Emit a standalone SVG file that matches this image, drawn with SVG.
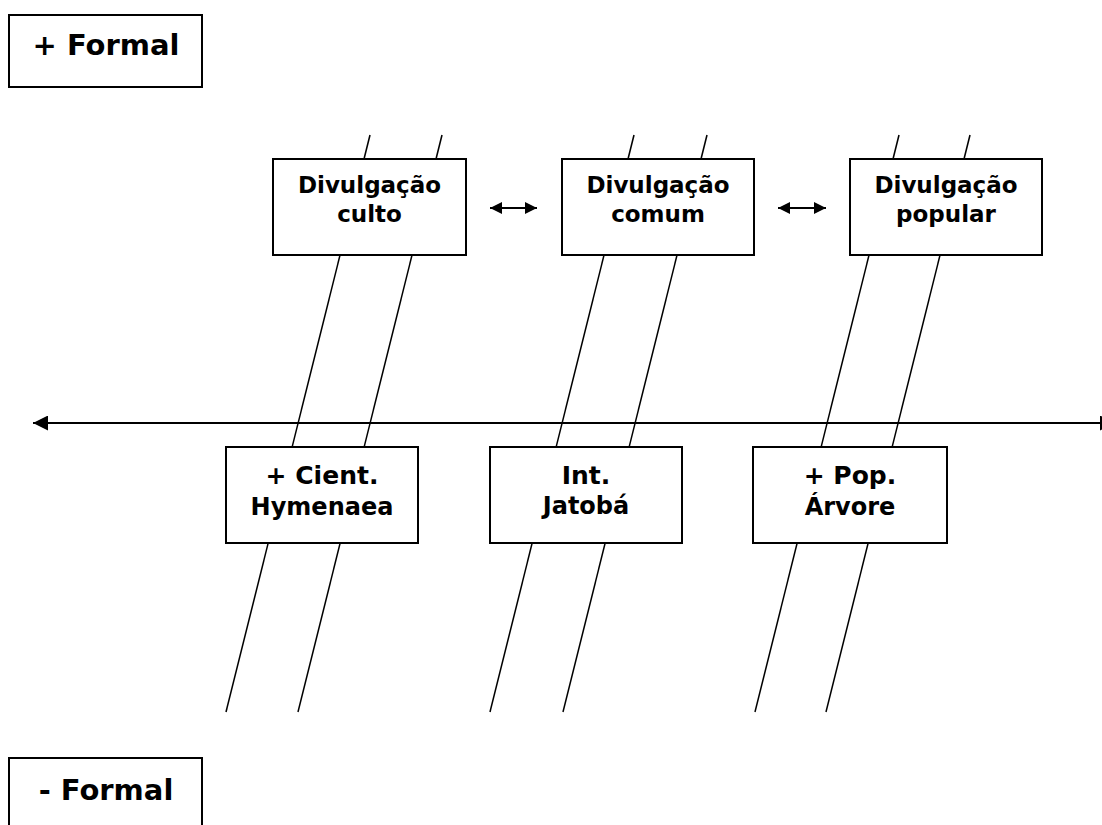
<svg xmlns="http://www.w3.org/2000/svg" width="1102" height="825" viewBox="0 0 1102 825">
<style>
.box{fill:#fff;stroke:#000;stroke-width:2}
.t{font-family:"DejaVu Sans","Verdana",sans-serif;font-weight:bold;fill:#000;text-anchor:middle}
.big{font-size:29px}
.l1{font-size:23px}
.b1{font-size:25px}
.l2{font-size:24px}
.diag{stroke:#000;stroke-width:1.5;fill:none}
.ax{stroke:#000;stroke-width:2;fill:none}
</style>
<defs>
<marker id="ah" viewBox="0 0 10 10" refX="10" refY="5" markerWidth="14" markerHeight="12" orient="auto-start-reverse" markerUnits="userSpaceOnUse">
<path d="M0,0 L10,5 L0,10 z" fill="#000"/>
</marker>
<marker id="ahL" viewBox="0 0 10 10" refX="10" refY="5" markerWidth="17" markerHeight="15" orient="auto-start-reverse" markerUnits="userSpaceOnUse">
<path d="M0,0 L10,5 L0,10 z" fill="#000"/>
</marker>
</defs>
<rect width="1102" height="825" fill="#fff"/>
<g id="connectors">
<line class="ax" x1="33" y1="423" x2="1115" y2="423" marker-start="url(#ahL)" marker-end="url(#ahL)"/>
<line class="diag" x1="370" y1="135" x2="226" y2="712"/>
<line class="diag" x1="442" y1="135" x2="298" y2="712"/>
<line class="diag" x1="634" y1="135" x2="490" y2="712"/>
<line class="diag" x1="707" y1="135" x2="563" y2="712"/>
<line class="diag" x1="899" y1="135" x2="755" y2="712"/>
<line class="diag" x1="970" y1="135" x2="826" y2="712"/>
<line class="ax" x1="490" y1="208" x2="537" y2="208" marker-start="url(#ah)" marker-end="url(#ah)"/>
<line class="ax" x1="778" y1="208" x2="826" y2="208" marker-start="url(#ah)" marker-end="url(#ah)"/>
</g>
<g id="formal-plus">
<rect class="box" x="9" y="15" width="193" height="72"/>
<text class="t big" x="106" y="55">+ Formal</text>
</g>
<g id="formal-minus">
<rect class="box" x="9" y="758" width="193" height="80"/>
<text class="t big" x="106" y="800">- Formal</text>
</g>
<g id="div-culto">
<rect class="box" x="273" y="159" width="193" height="96"/>
<text class="t l1" x="369.5" y="193">Divulgação</text>
<text class="t l1" x="369.5" y="222">culto</text>
</g>
<g id="div-comum">
<rect class="box" x="562" y="159" width="192" height="96"/>
<text class="t l1" x="658" y="193">Divulgação</text>
<text class="t l1" x="658" y="222">comum</text>
</g>
<g id="div-popular">
<rect class="box" x="850" y="159" width="192" height="96"/>
<text class="t l1" x="946" y="193">Divulgação</text>
<text class="t l1" x="946" y="222">popular</text>
</g>
<g id="cient">
<rect class="box" x="226" y="447" width="192" height="96"/>
<text class="t b1" x="322" y="484">+ Cient.</text>
<text class="t l2" x="322" y="515">Hymenaea</text>
</g>
<g id="int">
<rect class="box" x="490" y="447" width="192" height="96"/>
<text class="t b1" x="586" y="484">Int.</text>
<text class="t l2" x="586" y="514">Jatobá</text>
</g>
<g id="pop">
<rect class="box" x="753" y="447" width="194" height="96"/>
<text class="t b1" x="850" y="484">+ Pop.</text>
<text class="t l2" x="850" y="515">Árvore</text>
</g>
</svg>
